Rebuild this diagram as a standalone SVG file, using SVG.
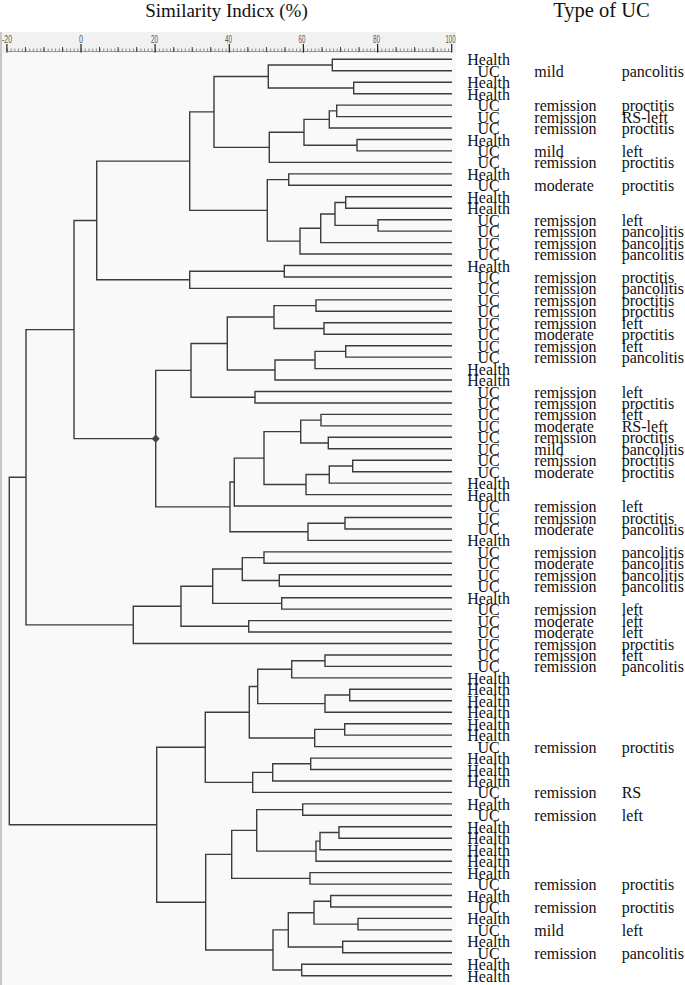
<svg xmlns="http://www.w3.org/2000/svg" width="685" height="985" viewBox="0 0 685 985">
<defs>
<style>
.ln{fill:none;stroke:#3c3c3c;stroke-width:1.4}
.t{font-family:"Liberation Serif","Times New Roman",serif;font-size:16px;fill:#111}
.c1{text-anchor:middle}
.hd{font-family:"Liberation Serif","Times New Roman",serif;fill:#111;text-anchor:middle}
.rl{font-family:"Liberation Sans",Arial,sans-serif;font-size:11px;fill:#555;text-anchor:middle}
.mn{stroke:#444;stroke-width:1}
.mj{stroke:#222;stroke-width:1.2}
</style>
</defs>
<rect width="685" height="985" fill="#ffffff"/>
<g id="header">
<text class="hd" x="226.5" y="17" font-size="19">Similarity Indicx (%)</text>
<text class="hd" x="601.5" y="17" font-size="20.5">Type of UC</text>
</g>
<g id="plot-area">
<rect x="0" y="32" width="456" height="21" fill="#f1f1f1"/>
<rect x="0" y="53" width="456" height="932" fill="#f9f9f9"/>
<line x1="1" y1="32" x2="1" y2="985" stroke="#c8c8c8" stroke-width="2"/>
</g>
<g id="ruler">
<line x1="6.9" y1="50" x2="451.7" y2="50" stroke="#8a8a8a" stroke-width="3" stroke-dasharray="1 2.707"/>
<line x1="6.9" y1="51.5" x2="451.7" y2="51.5" stroke="#999" stroke-width="1"/>
<g class="mn">
<line x1="25.4" y1="47" x2="25.4" y2="52"/><line x1="43.9" y1="47" x2="43.9" y2="52"/><line x1="62.5" y1="47" x2="62.5" y2="52"/>
<line x1="99.5" y1="47" x2="99.5" y2="52"/><line x1="118.1" y1="47" x2="118.1" y2="52"/><line x1="136.6" y1="47" x2="136.6" y2="52"/>
<line x1="173.7" y1="47" x2="173.7" y2="52"/><line x1="192.2" y1="47" x2="192.2" y2="52"/><line x1="210.7" y1="47" x2="210.7" y2="52"/>
<line x1="247.8" y1="47" x2="247.8" y2="52"/><line x1="266.4" y1="47" x2="266.4" y2="52"/><line x1="284.9" y1="47" x2="284.9" y2="52"/>
<line x1="322" y1="47" x2="322" y2="52"/><line x1="340.5" y1="47" x2="340.5" y2="52"/><line x1="359" y1="47" x2="359" y2="52"/>
<line x1="396.1" y1="47" x2="396.1" y2="52"/><line x1="414.6" y1="47" x2="414.6" y2="52"/><line x1="433.2" y1="47" x2="433.2" y2="52"/>
</g>
<g class="mj">
<line x1="6.9" y1="44" x2="6.9" y2="52.5"/><line x1="81" y1="44" x2="81" y2="52.5"/><line x1="155.1" y1="44" x2="155.1" y2="52.5"/>
<line x1="229.3" y1="44" x2="229.3" y2="52.5"/><line x1="303.4" y1="44" x2="303.4" y2="52.5"/><line x1="377.6" y1="44" x2="377.6" y2="52.5"/>
<line x1="451.7" y1="44" x2="451.7" y2="52.5"/>
</g>
<text class="rl" x="7" y="43" textLength="10" lengthAdjust="spacingAndGlyphs">-20</text>
<text class="rl" x="81" y="43" textLength="4" lengthAdjust="spacingAndGlyphs">0</text>
<text class="rl" x="154.5" y="43" textLength="7" lengthAdjust="spacingAndGlyphs">20</text>
<text class="rl" x="228.5" y="43" textLength="7" lengthAdjust="spacingAndGlyphs">40</text>
<text class="rl" x="302" y="43" textLength="7" lengthAdjust="spacingAndGlyphs">60</text>
<text class="rl" x="376.5" y="43" textLength="7" lengthAdjust="spacingAndGlyphs">80</text>
<text class="rl" x="450.5" y="43" textLength="10" lengthAdjust="spacingAndGlyphs">100</text>
</g>
<g id="connectors" class="ln">
<path d="M452 59.3H332.3V70.8H452"/>
<path d="M452 82.2H353.7V93.7H452"/>
<path d="M332.3 65.05H268.3V87.95H353.7"/>
<path d="M452 105.1H336.7V116.6H452"/>
<path d="M336.7 110.85H329.3V128H452"/>
<path d="M452 139.5H357V150.9H452"/>
<path d="M329.3 119.4H304V145.2H357"/>
<path d="M304 132.3H269.3V162.4H452"/>
<path d="M268.3 76.5H214V147.35H269.3"/>
<path d="M452 173.9H288.7V185.3H452"/>
<path d="M452 196.8H345.7V208.2H452"/>
<path d="M452 219.7H378V231.1H452"/>
<path d="M345.7 202.5H335V225.4H378"/>
<path d="M335 213.95H320.7V242.6H452"/>
<path d="M320.7 228.3H300V254H452"/>
<path d="M288.7 179.6H267.3V241.15H300"/>
<path d="M214 111.9H189.7V210.4H267.3"/>
<path d="M452 265.5H284.3V277H452"/>
<path d="M284.3 271.25H189.7V288.4H452"/>
<path d="M189.7 161.15H96.7V279.8H189.7"/>
<path d="M452 299.9H316V311.3H452"/>
<path d="M452 322.8H324V334.2H452"/>
<path d="M316 305.6H274V328.5H324"/>
<path d="M452 345.7H345.7V357.1H452"/>
<path d="M345.7 351.4H315V368.6H452"/>
<path d="M315 360H275V380H452"/>
<path d="M274 317.05H227.3V370H275"/>
<path d="M452 391.5H255V403H452"/>
<path d="M227.3 343.5H191V397.25H255"/>
<path d="M452 414.4H321V425.9H452"/>
<path d="M452 437.3H328.3V448.8H452"/>
<path d="M321 420.15H300.7V443.05H328.3"/>
<path d="M452 460.2H352.7V471.7H452"/>
<path d="M352.7 465.95H329.3V483.1H452"/>
<path d="M329.3 474.5H306V494.6H452"/>
<path d="M300.7 431.6H264V484.55H306"/>
<path d="M264 458.1H234.3V506H452"/>
<path d="M452 517.5H345V529H452"/>
<path d="M345 523.25H308V540.4H452"/>
<path d="M234.3 482.05H230V531.8H308"/>
<path d="M191 370.4H155.7V506.9H230"/>
<path d="M96.7 220.5H74V438.65H155.7"/>
<path d="M452 551.9H264V563.3H452"/>
<path d="M452 574.8H279.3V586.2H452"/>
<path d="M264 557.6H242.3V580.5H279.3"/>
<path d="M452 597.7H281.7V609.1H452"/>
<path d="M242.3 569.05H212.7V603.4H281.7"/>
<path d="M452 620.6H248.7V632H452"/>
<path d="M212.7 586.2H181V626.3H248.7"/>
<path d="M181 606.25H133.3V643.5H452"/>
<path d="M74 329.6H26V624.9H133.3"/>
<path d="M452 655H325V666.4H452"/>
<path d="M325 660.7H291.7V677.9H452"/>
<path d="M452 689.3H349.7V700.8H452"/>
<path d="M349.7 695.05H325V712.2H452"/>
<path d="M291.7 669.3H257.7V703.6H325"/>
<path d="M452 723.7H344.7V735.1H452"/>
<path d="M344.7 729.4H314.7V746.6H452"/>
<path d="M257.7 686.45H249.3V738H314.7"/>
<path d="M452 758.1H310.7V769.5H452"/>
<path d="M310.7 763.8H272.7V781H452"/>
<path d="M272.7 772.4H252.7V792.4H452"/>
<path d="M249.3 712.2H205.3V782.4H252.7"/>
<path d="M452 803.9H302.7V815.3H452"/>
<path d="M452 826.8H339V838.2H452"/>
<path d="M339 832.5H320V849.7H452"/>
<path d="M320 841.1H316V861.2H452"/>
<path d="M302.7 809.6H256.7V851.15H316"/>
<path d="M452 872.6H310V884.1H452"/>
<path d="M256.7 830.4H231.7V878.35H310"/>
<path d="M452 895.5H330.7V907H452"/>
<path d="M452 918.4H358V929.9H452"/>
<path d="M330.7 901.25H314V924.15H358"/>
<path d="M452 941.3H342.7V952.8H452"/>
<path d="M314 912.7H288.3V947.05H342.7"/>
<path d="M452 964.3H301.7V975.7H452"/>
<path d="M288.3 929.9H273V970H301.7"/>
<path d="M231.7 854.4H205.7V949.95H273"/>
<path d="M205.3 747.3H156.7V902.2H205.7"/>
<path d="M26 477.25H9.3V824.75H156.7"/>
<polygon points="155.7,434.6 159.7,438.65 155.7,442.7 151.7,438.65" fill="#444" stroke="none"/>
</g>
<g id="leaf-1"><text class="t c1" x="488.6" y="65.3">Health</text></g>
<g id="leaf-2"><text class="t c1" x="488.6" y="76.8">UC</text><text class="t" x="534.3" y="76.8">mild</text><text class="t" x="621.7" y="76.8">pancolitis</text></g>
<g id="leaf-3"><text class="t c1" x="488.6" y="88.2">Health</text></g>
<g id="leaf-4"><text class="t c1" x="488.6" y="99.7">Health</text></g>
<g id="leaf-5"><text class="t c1" x="488.6" y="111.1">UC</text><text class="t" x="534.3" y="111.1">remission</text><text class="t" x="621.7" y="111.1">proctitis</text></g>
<g id="leaf-6"><text class="t c1" x="488.6" y="122.6">UC</text><text class="t" x="534.3" y="122.6">remission</text><text class="t" x="621.7" y="122.6">RS-left</text></g>
<g id="leaf-7"><text class="t c1" x="488.6" y="134">UC</text><text class="t" x="534.3" y="134">remission</text><text class="t" x="621.7" y="134">proctitis</text></g>
<g id="leaf-8"><text class="t c1" x="488.6" y="145.5">Health</text></g>
<g id="leaf-9"><text class="t c1" x="488.6" y="156.9">UC</text><text class="t" x="534.3" y="156.9">mild</text><text class="t" x="621.7" y="156.9">left</text></g>
<g id="leaf-10"><text class="t c1" x="488.6" y="168.4">UC</text><text class="t" x="534.3" y="168.4">remission</text><text class="t" x="621.7" y="168.4">proctitis</text></g>
<g id="leaf-11"><text class="t c1" x="488.6" y="179.9">Health</text></g>
<g id="leaf-12"><text class="t c1" x="488.6" y="191.3">UC</text><text class="t" x="534.3" y="191.3">moderate</text><text class="t" x="621.7" y="191.3">proctitis</text></g>
<g id="leaf-13"><text class="t c1" x="488.6" y="202.8">Health</text></g>
<g id="leaf-14"><text class="t c1" x="488.6" y="214.2">Health</text></g>
<g id="leaf-15"><text class="t c1" x="488.6" y="225.7">UC</text><text class="t" x="534.3" y="225.7">remission</text><text class="t" x="621.7" y="225.7">left</text></g>
<g id="leaf-16"><text class="t c1" x="488.6" y="237.1">UC</text><text class="t" x="534.3" y="237.1">remission</text><text class="t" x="621.7" y="237.1">pancolitis</text></g>
<g id="leaf-17"><text class="t c1" x="488.6" y="248.6">UC</text><text class="t" x="534.3" y="248.6">remission</text><text class="t" x="621.7" y="248.6">pancolitis</text></g>
<g id="leaf-18"><text class="t c1" x="488.6" y="260">UC</text><text class="t" x="534.3" y="260">remission</text><text class="t" x="621.7" y="260">pancolitis</text></g>
<g id="leaf-19"><text class="t c1" x="488.6" y="271.5">Health</text></g>
<g id="leaf-20"><text class="t c1" x="488.6" y="283">UC</text><text class="t" x="534.3" y="283">remission</text><text class="t" x="621.7" y="283">proctitis</text></g>
<g id="leaf-21"><text class="t c1" x="488.6" y="294.4">UC</text><text class="t" x="534.3" y="294.4">remission</text><text class="t" x="621.7" y="294.4">pancolitis</text></g>
<g id="leaf-22"><text class="t c1" x="488.6" y="305.9">UC</text><text class="t" x="534.3" y="305.9">remission</text><text class="t" x="621.7" y="305.9">proctitis</text></g>
<g id="leaf-23"><text class="t c1" x="488.6" y="317.3">UC</text><text class="t" x="534.3" y="317.3">remission</text><text class="t" x="621.7" y="317.3">proctitis</text></g>
<g id="leaf-24"><text class="t c1" x="488.6" y="328.8">UC</text><text class="t" x="534.3" y="328.8">remission</text><text class="t" x="621.7" y="328.8">left</text></g>
<g id="leaf-25"><text class="t c1" x="488.6" y="340.2">UC</text><text class="t" x="534.3" y="340.2">moderate</text><text class="t" x="621.7" y="340.2">proctitis</text></g>
<g id="leaf-26"><text class="t c1" x="488.6" y="351.7">UC</text><text class="t" x="534.3" y="351.7">remission</text><text class="t" x="621.7" y="351.7">left</text></g>
<g id="leaf-27"><text class="t c1" x="488.6" y="363.1">UC</text><text class="t" x="534.3" y="363.1">remission</text><text class="t" x="621.7" y="363.1">pancolitis</text></g>
<g id="leaf-28"><text class="t c1" x="488.6" y="374.6">Health</text></g>
<g id="leaf-29"><text class="t c1" x="488.6" y="386">Health</text></g>
<g id="leaf-30"><text class="t c1" x="488.6" y="397.5">UC</text><text class="t" x="534.3" y="397.5">remission</text><text class="t" x="621.7" y="397.5">left</text></g>
<g id="leaf-31"><text class="t c1" x="488.6" y="409">UC</text><text class="t" x="534.3" y="409">remission</text><text class="t" x="621.7" y="409">proctitis</text></g>
<g id="leaf-32"><text class="t c1" x="488.6" y="420.4">UC</text><text class="t" x="534.3" y="420.4">remission</text><text class="t" x="621.7" y="420.4">left</text></g>
<g id="leaf-33"><text class="t c1" x="488.6" y="431.9">UC</text><text class="t" x="534.3" y="431.9">moderate</text><text class="t" x="621.7" y="431.9">RS-left</text></g>
<g id="leaf-34"><text class="t c1" x="488.6" y="443.3">UC</text><text class="t" x="534.3" y="443.3">remission</text><text class="t" x="621.7" y="443.3">proctitis</text></g>
<g id="leaf-35"><text class="t c1" x="488.6" y="454.8">UC</text><text class="t" x="534.3" y="454.8">mild</text><text class="t" x="621.7" y="454.8">pancolitis</text></g>
<g id="leaf-36"><text class="t c1" x="488.6" y="466.2">UC</text><text class="t" x="534.3" y="466.2">remission</text><text class="t" x="621.7" y="466.2">proctitis</text></g>
<g id="leaf-37"><text class="t c1" x="488.6" y="477.7">UC</text><text class="t" x="534.3" y="477.7">moderate</text><text class="t" x="621.7" y="477.7">proctitis</text></g>
<g id="leaf-38"><text class="t c1" x="488.6" y="489.1">Health</text></g>
<g id="leaf-39"><text class="t c1" x="488.6" y="500.6">Health</text></g>
<g id="leaf-40"><text class="t c1" x="488.6" y="512">UC</text><text class="t" x="534.3" y="512">remission</text><text class="t" x="621.7" y="512">left</text></g>
<g id="leaf-41"><text class="t c1" x="488.6" y="523.5">UC</text><text class="t" x="534.3" y="523.5">remission</text><text class="t" x="621.7" y="523.5">proctitis</text></g>
<g id="leaf-42"><text class="t c1" x="488.6" y="535">UC</text><text class="t" x="534.3" y="535">moderate</text><text class="t" x="621.7" y="535">pancolitis</text></g>
<g id="leaf-43"><text class="t c1" x="488.6" y="546.4">Health</text></g>
<g id="leaf-44"><text class="t c1" x="488.6" y="557.9">UC</text><text class="t" x="534.3" y="557.9">remission</text><text class="t" x="621.7" y="557.9">pancolitis</text></g>
<g id="leaf-45"><text class="t c1" x="488.6" y="569.3">UC</text><text class="t" x="534.3" y="569.3">moderate</text><text class="t" x="621.7" y="569.3">pancolitis</text></g>
<g id="leaf-46"><text class="t c1" x="488.6" y="580.8">UC</text><text class="t" x="534.3" y="580.8">remission</text><text class="t" x="621.7" y="580.8">pancolitis</text></g>
<g id="leaf-47"><text class="t c1" x="488.6" y="592.2">UC</text><text class="t" x="534.3" y="592.2">remission</text><text class="t" x="621.7" y="592.2">pancolitis</text></g>
<g id="leaf-48"><text class="t c1" x="488.6" y="603.7">Health</text></g>
<g id="leaf-49"><text class="t c1" x="488.6" y="615.1">UC</text><text class="t" x="534.3" y="615.1">remission</text><text class="t" x="621.7" y="615.1">left</text></g>
<g id="leaf-50"><text class="t c1" x="488.6" y="626.6">UC</text><text class="t" x="534.3" y="626.6">moderate</text><text class="t" x="621.7" y="626.6">left</text></g>
<g id="leaf-51"><text class="t c1" x="488.6" y="638">UC</text><text class="t" x="534.3" y="638">moderate</text><text class="t" x="621.7" y="638">left</text></g>
<g id="leaf-52"><text class="t c1" x="488.6" y="649.5">UC</text><text class="t" x="534.3" y="649.5">remission</text><text class="t" x="621.7" y="649.5">proctitis</text></g>
<g id="leaf-53"><text class="t c1" x="488.6" y="661">UC</text><text class="t" x="534.3" y="661">remission</text><text class="t" x="621.7" y="661">left</text></g>
<g id="leaf-54"><text class="t c1" x="488.6" y="672.4">UC</text><text class="t" x="534.3" y="672.4">remission</text><text class="t" x="621.7" y="672.4">pancolitis</text></g>
<g id="leaf-55"><text class="t c1" x="488.6" y="683.9">Health</text></g>
<g id="leaf-56"><text class="t c1" x="488.6" y="695.3">Health</text></g>
<g id="leaf-57"><text class="t c1" x="488.6" y="706.8">Health</text></g>
<g id="leaf-58"><text class="t c1" x="488.6" y="718.2">Health</text></g>
<g id="leaf-59"><text class="t c1" x="488.6" y="729.7">Health</text></g>
<g id="leaf-60"><text class="t c1" x="488.6" y="741.1">Health</text></g>
<g id="leaf-61"><text class="t c1" x="488.6" y="752.6">UC</text><text class="t" x="534.3" y="752.6">remission</text><text class="t" x="621.7" y="752.6">proctitis</text></g>
<g id="leaf-62"><text class="t c1" x="488.6" y="764.1">Health</text></g>
<g id="leaf-63"><text class="t c1" x="488.6" y="775.5">Health</text></g>
<g id="leaf-64"><text class="t c1" x="488.6" y="787">Health</text></g>
<g id="leaf-65"><text class="t c1" x="488.6" y="798.4">UC</text><text class="t" x="534.3" y="798.4">remission</text><text class="t" x="621.7" y="798.4">RS</text></g>
<g id="leaf-66"><text class="t c1" x="488.6" y="809.9">Health</text></g>
<g id="leaf-67"><text class="t c1" x="488.6" y="821.3">UC</text><text class="t" x="534.3" y="821.3">remission</text><text class="t" x="621.7" y="821.3">left</text></g>
<g id="leaf-68"><text class="t c1" x="488.6" y="832.8">Health</text></g>
<g id="leaf-69"><text class="t c1" x="488.6" y="844.2">Health</text></g>
<g id="leaf-70"><text class="t c1" x="488.6" y="855.7">Health</text></g>
<g id="leaf-71"><text class="t c1" x="488.6" y="867.2">Health</text></g>
<g id="leaf-72"><text class="t c1" x="488.6" y="878.6">Health</text></g>
<g id="leaf-73"><text class="t c1" x="488.6" y="890.1">UC</text><text class="t" x="534.3" y="890.1">remission</text><text class="t" x="621.7" y="890.1">proctitis</text></g>
<g id="leaf-74"><text class="t c1" x="488.6" y="901.5">Health</text></g>
<g id="leaf-75"><text class="t c1" x="488.6" y="913">UC</text><text class="t" x="534.3" y="913">remission</text><text class="t" x="621.7" y="913">proctitis</text></g>
<g id="leaf-76"><text class="t c1" x="488.6" y="924.4">Health</text></g>
<g id="leaf-77"><text class="t c1" x="488.6" y="935.9">UC</text><text class="t" x="534.3" y="935.9">mild</text><text class="t" x="621.7" y="935.9">left</text></g>
<g id="leaf-78"><text class="t c1" x="488.6" y="947.3">Health</text></g>
<g id="leaf-79"><text class="t c1" x="488.6" y="958.8">UC</text><text class="t" x="534.3" y="958.8">remission</text><text class="t" x="621.7" y="958.8">pancolitis</text></g>
<g id="leaf-80"><text class="t c1" x="488.6" y="970.3">Health</text></g>
<g id="leaf-81"><text class="t c1" x="488.6" y="981.7">Health</text></g>
</svg>
